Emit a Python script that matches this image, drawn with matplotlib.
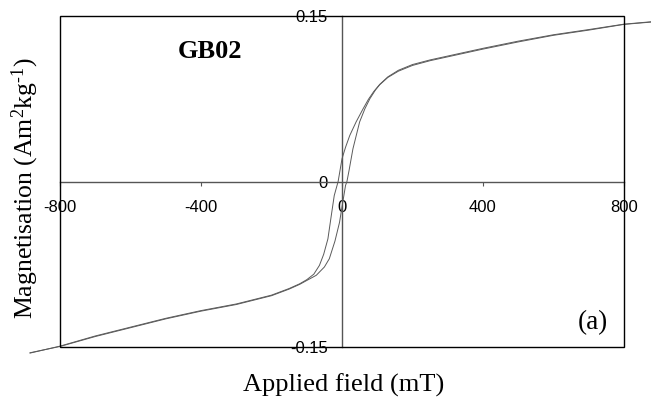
import matplotlib
matplotlib.use("Agg")
import matplotlib.pyplot as plt
from matplotlib.patches import Rectangle

# Descending branch (from +field to -field)
H_desc = [885, 800, 700, 600, 500, 400, 300, 250, 200, 160, 130, 107, 90, 75, 60, 40, 22, 10, 0,
          -11, -22, -30, -40, -52, -64, -80, -100, -120, -150, -200, -300, -400, -500, -600,
          -700, -800, -885]
M_desc = [0.1450, 0.1426, 0.1377, 0.1330, 0.1272, 0.1207, 0.1137, 0.1102, 0.1060, 0.1008, 0.0948,
          0.0880, 0.0815, 0.0745, 0.0660, 0.0540, 0.0417, 0.0310, 0.0206,
          0.0, -0.0127, -0.0300, -0.0520, -0.0660, -0.0760, -0.0840, -0.0890, -0.0927, -0.0970,
          -0.1030, -0.1110, -0.1170, -0.1240, -0.1320, -0.1400, -0.1492, -0.1555]

# Ascending branch (from -field to +field)
H_asc = [-885, -800, -700, -600, -500, -400, -300, -200, -150, -120, -100, -73, -50, -36, -20,
         -7, 0, 10, 14, 20, 31, 50, 65, 79, 95, 107, 130, 160, 200, 250, 300, 400, 500, 600,
         700, 800, 885]
M_asc = [-0.1552, -0.1495, -0.1405, -0.1325, -0.1245, -0.1175, -0.1115, -0.1035, -0.0975,
         -0.0932, -0.0897, -0.0850, -0.0775, -0.0700, -0.0540, -0.0370, -0.0230, -0.0036, 0.0,
         0.0100, 0.0296, 0.0540, 0.0660, 0.0750, 0.0830, 0.0877, 0.0943, 0.1000, 0.1052,
         0.1095, 0.1130, 0.1200, 0.1265, 0.1325, 0.1372, 0.1424, 0.1447]

x_ticks = [-800, -400, 0, 400, 800]
x_tick_labels = ["-800", "-400", "0", "400", "800"]
y_ticks = [-0.15, 0, 0.15]
y_tick_labels = ["-0.15", "0", "0.15"]

plt.rcParams['mathtext.fontset'] = 'custom'
plt.rcParams['mathtext.rm'] = 'Liberation Serif'
plt.rcParams['mathtext.it'] = 'Liberation Serif:italic'

fig = plt.figure(figsize=(6.51, 4.07), dpi=100)
ax = fig.add_axes([0.0922, 0.1474, 0.8663, 0.8133])
ax.set_xlim(-800, 800)
ax.set_ylim(-0.15, 0.15)

line_col = '#5a5a5a'
ax.plot(H_desc, M_desc, color=line_col, lw=0.7, clip_on=False, zorder=3)
ax.plot(H_asc, M_asc, color=line_col, lw=0.7, clip_on=False, zorder=3)

for s in ['left', 'bottom']:
    ax.spines[s].set_position(('data', 0))
    ax.spines[s].set_color('#555555')
    ax.spines[s].set_linewidth(1.0)
for s in ['top', 'right']:
    ax.spines[s].set_visible(False)
ax.add_patch(Rectangle((0, 0), 1, 1, transform=ax.transAxes, fill=False,
                       ec='black', lw=1.0, clip_on=False, zorder=4))

ax.set_xticks(x_ticks)
ax.set_xticklabels(x_tick_labels, fontfamily='Liberation Sans', fontsize=12)
ax.set_yticks(y_ticks)
ax.set_yticklabels(y_tick_labels, fontfamily='Liberation Sans', fontsize=12)
ax.tick_params(axis='x', direction='out', length=3, width=0.8, color='#555555', pad=10)
ax.tick_params(axis='y', direction='out', length=0, pad=10)

fig.text(344 / 651, 1 - 385 / 407, 'Applied field (mT)', ha='center', va='center',
         fontfamily='Liberation Serif', fontsize=19)
fig.text(25 / 651, 1 - 188 / 407, r'Magnetisation (Am$^{2}$kg$^{\text{-}1}$)', ha='center',
         va='center', rotation=90, fontfamily='Liberation Serif', fontsize=18.5)
fig.text(210 / 651, 1 - 51 / 407, 'GB02', ha='center', va='center',
         fontfamily='Liberation Serif', fontweight='bold', fontsize=19)
fig.text(593 / 651, 1 - 323 / 407, '(a)', ha='center', va='center',
         fontfamily='Liberation Serif', fontsize=19.5)

fig.savefig('out.png', dpi=100)
